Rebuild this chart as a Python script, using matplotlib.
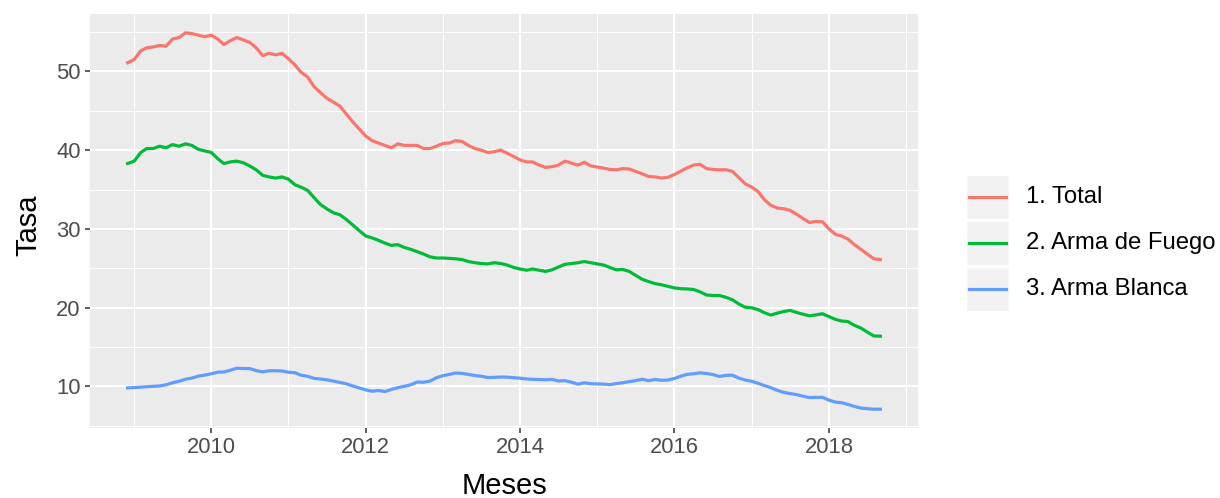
import matplotlib.pyplot as plt
import matplotlib.dates as mdates
from matplotlib.patches import Rectangle
from matplotlib.lines import Line2D
from matplotlib.ticker import FixedLocator
import pandas as pd

plt.rcParams['font.family'] = ['Liberation Sans', 'DejaVu Sans']

# Serie mensual dic-2008 a sep-2018
meses = pd.date_range('2008-12-01', periods=118, freq='MS')

total = [51.1, 51.5, 52.6, 53.0, 53.1, 53.3, 53.2, 54.1, 54.3, 54.9,
         54.8, 54.6, 54.4, 54.6, 54.1, 53.4, 53.9, 54.3, 54.0, 53.7,
         53.0, 52.0, 52.3, 52.1, 52.3, 51.6, 50.8, 49.9, 49.3, 48.1,
         47.3, 46.6, 46.1, 45.6, 44.6, 43.6, 42.7, 41.8, 41.2, 40.9,
         40.6, 40.3, 40.8, 40.6, 40.6, 40.6, 40.2, 40.2, 40.5, 40.85,
         40.9, 41.2, 41.1, 40.6, 40.2, 40.0, 39.7, 39.8, 40.0, 39.6,
         39.2, 38.75, 38.5, 38.5, 38.1, 37.8, 37.9, 38.1, 38.6, 38.35,
         38.1, 38.45, 38.0, 37.85, 37.7, 37.55, 37.5, 37.65, 37.6, 37.3,
         37.0, 36.65, 36.6, 36.45, 36.55, 36.9, 37.35, 37.75, 38.1, 38.2,
         37.65, 37.55, 37.5, 37.5, 37.3, 36.5, 35.7, 35.3, 34.7, 33.7,
         33.0, 32.65, 32.55, 32.35, 31.85, 31.3, 30.8, 30.95, 30.9, 30.0,
         29.3, 29.1, 28.7, 28.0, 27.4, 26.8, 26.2, 26.1]

arma_fuego = [38.3, 38.6, 39.7, 40.2, 40.2, 40.5, 40.3, 40.7, 40.5, 40.8,
              40.6, 40.1, 39.9, 39.7, 38.9, 38.3, 38.5, 38.6, 38.4, 38.0,
              37.5, 36.8, 36.6, 36.45, 36.6, 36.3, 35.6, 35.3, 34.9, 34.0,
              33.1, 32.55, 32.05, 31.8, 31.2, 30.5, 29.8, 29.1, 28.85, 28.55,
              28.2, 27.9, 28.0, 27.65, 27.4, 27.1, 26.8, 26.45, 26.3, 26.3,
              26.25, 26.2, 26.1, 25.85, 25.7, 25.6, 25.55, 25.7, 25.6, 25.4,
              25.1, 24.9, 24.75, 24.9, 24.75, 24.6, 24.8, 25.15, 25.5, 25.6,
              25.7, 25.85, 25.7, 25.55, 25.4, 25.1, 24.8, 24.85, 24.6, 24.1,
              23.6, 23.3, 23.05, 22.9, 22.7, 22.5, 22.4, 22.37, 22.3, 22.0,
              21.6, 21.54, 21.54, 21.3, 21.0, 20.45, 20.05, 19.98, 19.73, 19.35,
              19.05, 19.3, 19.5, 19.65, 19.38, 19.15, 18.95, 19.08, 19.22, 18.85,
              18.5, 18.3, 18.22, 17.75, 17.4, 16.9, 16.4, 16.37]

arma_blanca = [9.8, 9.85, 9.9, 9.95, 10.0, 10.05, 10.2, 10.45, 10.65, 10.9,
               11.05, 11.3, 11.43, 11.6, 11.8, 11.82, 12.05, 12.3, 12.26, 12.26,
               12.0, 11.84, 11.98, 11.98, 11.95, 11.8, 11.72, 11.42, 11.28, 11.02,
               10.93, 10.83, 10.67, 10.5, 10.33, 10.05, 9.8, 9.55, 9.38, 9.47,
               9.34, 9.6, 9.83, 10.0, 10.2, 10.55, 10.52, 10.67, 11.1, 11.35,
               11.52, 11.7, 11.64, 11.52, 11.37, 11.29, 11.12, 11.14, 11.18, 11.17,
               11.1, 11.03, 10.94, 10.89, 10.86, 10.83, 10.89, 10.68, 10.72, 10.53,
               10.27, 10.45, 10.33, 10.31, 10.28, 10.22, 10.35, 10.46, 10.6, 10.73,
               10.9, 10.72, 10.87, 10.77, 10.8, 11.0, 11.3, 11.52, 11.6, 11.72,
               11.63, 11.5, 11.25, 11.4, 11.42, 11.05, 10.8, 10.64, 10.37, 10.1,
               9.83, 9.5, 9.24, 9.08, 8.95, 8.74, 8.57, 8.6, 8.6, 8.25,
               8.0, 7.92, 7.7, 7.45, 7.25, 7.16, 7.1, 7.1]

nombres = ['1. Total', '2. Arma de Fuego', '3. Arma Blanca']
colores = ['#F8766D', '#00BA38', '#619CFF']
valores = [total, arma_fuego, arma_blanca]

W, H = 1220, 498
fig = plt.figure(figsize=(W / 100, H / 100), dpi=100)
ax = fig.add_axes([90 / W, (H - 428) / H, (918 - 90) / W, (428 - 14) / H])

for nombre, serie, color in zip(nombres, valores, colores):
    ax.plot(meses, serie, color=color, lw=2.3, label=nombre, zorder=3)

ax.margins(x=0.05, y=0.05)

# estilo tipo ggplot (theme_grey)
ax.set_facecolor('#EBEBEB')
for s in ax.spines.values():
    s.set_visible(False)

ax.xaxis.set_major_locator(mdates.YearLocator(2))
ax.xaxis.set_major_formatter(mdates.DateFormatter('%Y'))
ax.xaxis.set_minor_locator(FixedLocator(
    [mdates.date2num(pd.Timestamp(f'{a}-01-01')) for a in range(2009, 2020, 2)]))
ax.set_yticks([10, 20, 30, 40, 50])
ax.set_yticks([5, 15, 25, 35, 45, 55], minor=True)

ax.grid(which='major', color='white', lw=1.5, zorder=0)
ax.grid(which='minor', color='white', lw=0.75, zorder=0)
ax.tick_params(which='major', length=3.8, width=1.1, color='#333333',
               labelcolor='#4D4D4D', labelsize=15.8, pad=3)
ax.tick_params(which='minor', length=0)

fig.text(28 / W, 1 - 225 / H, 'Tasa', rotation=90, fontsize=21,
         ha='center', va='center')
fig.text(505 / W, 1 - 486 / H, 'Meses', fontsize=21, ha='center', va='center')

# leyenda a la derecha
filas = [197, 243, 289]
for nombre, color, yc in zip(nombres, colores, filas):
    fig.add_artist(Rectangle((966 / W, 1 - (yc + 22) / H), 43 / W, 44 / H,
                             transform=fig.transFigure, facecolor='#F2F2F2',
                             edgecolor='white', lw=1))
    fig.add_artist(Line2D([969 / W, 1006 / W], [1 - yc / H, 1 - yc / H],
                          transform=fig.transFigure, color=color, lw=2.3))
    fig.text(1026 / W, 1 - yc / H, nombre, fontsize=17.2, ha='left', va='center')

fig.savefig('out.png', dpi=100)
